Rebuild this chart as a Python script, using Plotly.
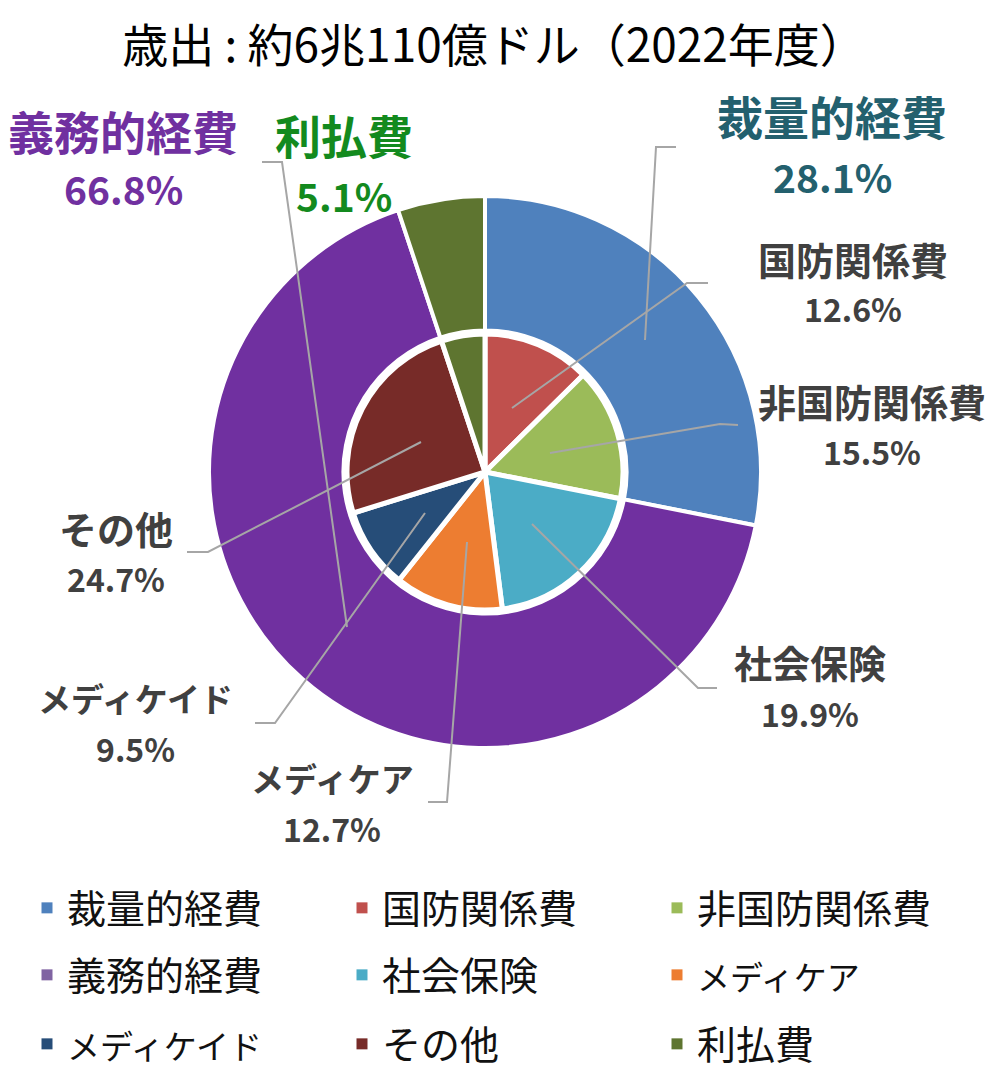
import plotly.graph_objects as go

W, H = 993, 1074
FONT = "Noto Sans CJK JP"
OFF = 8  # ページ本体の余白分

title_text = "歳出 : 約6兆110億ドル（2022年度）"

# 外側の輪: 大分類
outer_labels = ["裁量的経費", "義務的経費", "利払費"]
outer_values = [28.1, 66.8, 5.1]
outer_colors = ["#4F81BD", "#7030A0", "#5E7530"]

# 内側の円: 内訳
inner_labels = ["国防関係費", "非国防関係費", "社会保険", "メディケア", "メディケイド", "その他", "利払費"]
inner_values = [12.6, 15.5, 19.9, 12.7, 9.5, 24.7, 5.1]
inner_colors = ["#C0504D", "#9BBB59", "#4BACC6", "#ED7D31", "#264D78", "#772B28", "#5E7530"]

legend_labels = ["裁量的経費", "国防関係費", "非国防関係費",
                 "義務的経費", "社会保険", "メディケア",
                 "メディケイド", "その他", "利払費"]
legend_colors = ["#4F81BD", "#C0504D", "#9BBB59",
                 "#8064A2", "#4BACC6", "#ED7D31",
                 "#264D78", "#772B28", "#5E7530"]
katakana = {"メディケア", "メディケイド"}


def px(x, y):
    return (x - OFF) / W, 1 - (y - OFF) / H


def dom(cx, cy, r):
    x0, y1 = px(cx - r, cy - r)
    x1, y0 = px(cx + r, cy + r)
    return dict(x=[x0, x1], y=[y0, y1])


CX, CY = 485, 472

fig = go.Figure()

fig.add_trace(go.Pie(
    labels=outer_labels,
    values=outer_values,
    marker=dict(colors=outer_colors, line=dict(color="white", width=4)),
    hole=0.513,
    sort=False,
    direction="clockwise",
    rotation=0,
    textinfo="none",
    showlegend=False,
    domain=dom(CX, CY, 276),
))

fig.add_trace(go.Pie(
    labels=inner_labels,
    values=inner_values,
    marker=dict(colors=inner_colors, line=dict(color="white", width=5)),
    sort=False,
    direction="clockwise",
    rotation=0,
    textinfo="none",
    showlegend=False,
    domain=dom(CX, CY, 138),
))

# 凡例 (3行 x 3列)
legend_rows = ["legend", "legend2", "legend3"]
for i, (lab, col) in enumerate(zip(legend_labels, legend_colors)):
    name = f'<span style="font-size:33px">{lab}</span>' if lab in katakana else lab
    fig.add_trace(go.Scatter(
        x=[None], y=[None],
        mode="markers",
        marker=dict(symbol="square", size=11, color=col),
        name=name,
        legend=legend_rows[i // 3],
    ))

# ラベル配置 (中心x, 名前y, 割合y, 名前サイズ, 割合サイズ, 色)
values_by_label = dict(zip(inner_labels, inner_values))
values_by_label.update(dict(zip(outer_labels, outer_values)))

label_pos = {
    "義務的経費": (123, 132, 190, 46, 39, "#7030A0"),
    "利払費": (344, 136, 197, 46, 39, "#138A1E"),
    "裁量的経費": (832, 117, 178, 46, 39, "#23606E"),
    "国防関係費": (853, 260, 310, 38, 32, "#404040"),
    "非国防関係費": (872, 403, 453, 38, 32, "#404040"),
    "社会保険": (810, 663, 715, 38, 32, "#404040"),
    "メディケア": (332, 780, 830, 33, 32, "#404040"),
    "メディケイド": (135, 700, 750, 33, 32, "#404040"),
    "その他": (116, 530, 580, 38, 32, "#404040"),
}

leaders = {
    "裁量的経費": [(645, 340), (656, 147), (676, 147)],
    "国防関係費": [(512, 408), (687, 283), (708, 283)],
    "非国防関係費": [(550, 453), (720, 424), (738, 425)],
    "社会保険": [(532, 524), (698, 688), (717, 688)],
    "メディケア": [(467, 542), (447, 802), (428, 802)],
    "メディケイド": [(425, 513), (275, 723), (255, 723)],
    "その他": [(421, 442), (208, 552), (187, 552)],
    "義務的経費": [(347, 627), (282, 162), (262, 162)],
}

annotations = []
for lab, (x, yn, yp, s_name, s_pct, color) in label_pos.items():
    for text, y, size in ((lab, yn, s_name), (f"{values_by_label[lab]}%", yp, s_pct)):
        ax, ay = px(x, y - 2)
        annotations.append(dict(
            text=text, x=ax, y=ay, xref="paper", yref="paper",
            xanchor="center", yanchor="middle", showarrow=False,
            font=dict(family=FONT, size=size, color=color, weight="bold"),
        ))

shapes = []
for lab, pts in leaders.items():
    path = ""
    for j, (x, y) in enumerate(pts):
        sx, sy = px(x, y)
        path += ("M" if j == 0 else " L") + f"{sx:.5f},{sy:.5f}"
    shapes.append(dict(type="path", path=path, xref="paper", yref="paper",
                       line=dict(color="#A6A6A6", width=2)))

legend_y = [908, 975, 1044]
layout_legends = {}
for name, y in zip(legend_rows, legend_y):
    lx, ly = px(27, y)
    layout_legends[name] = dict(
        orientation="h",
        x=lx, y=ly,
        xanchor="left", yanchor="middle",
        entrywidth=270, entrywidthmode="pixels",
        font=dict(family=FONT, size=39, color="#111111"),
        bgcolor="rgba(0,0,0,0)",
    )

tx, ty = px(494, 46)
fig.update_layout(
    width=W, height=H,
    margin=dict(l=0, r=0, t=0, b=0),
    paper_bgcolor="white",
    plot_bgcolor="white",
    title=dict(text=title_text, x=tx, y=ty,
               xanchor="center", yanchor="middle",
               font=dict(family=FONT, size=46, color="#000000")),
    xaxis=dict(visible=False),
    yaxis=dict(visible=False),
    annotations=annotations,
    shapes=shapes,
    **layout_legends,
)

fig.write_html("out.html")
